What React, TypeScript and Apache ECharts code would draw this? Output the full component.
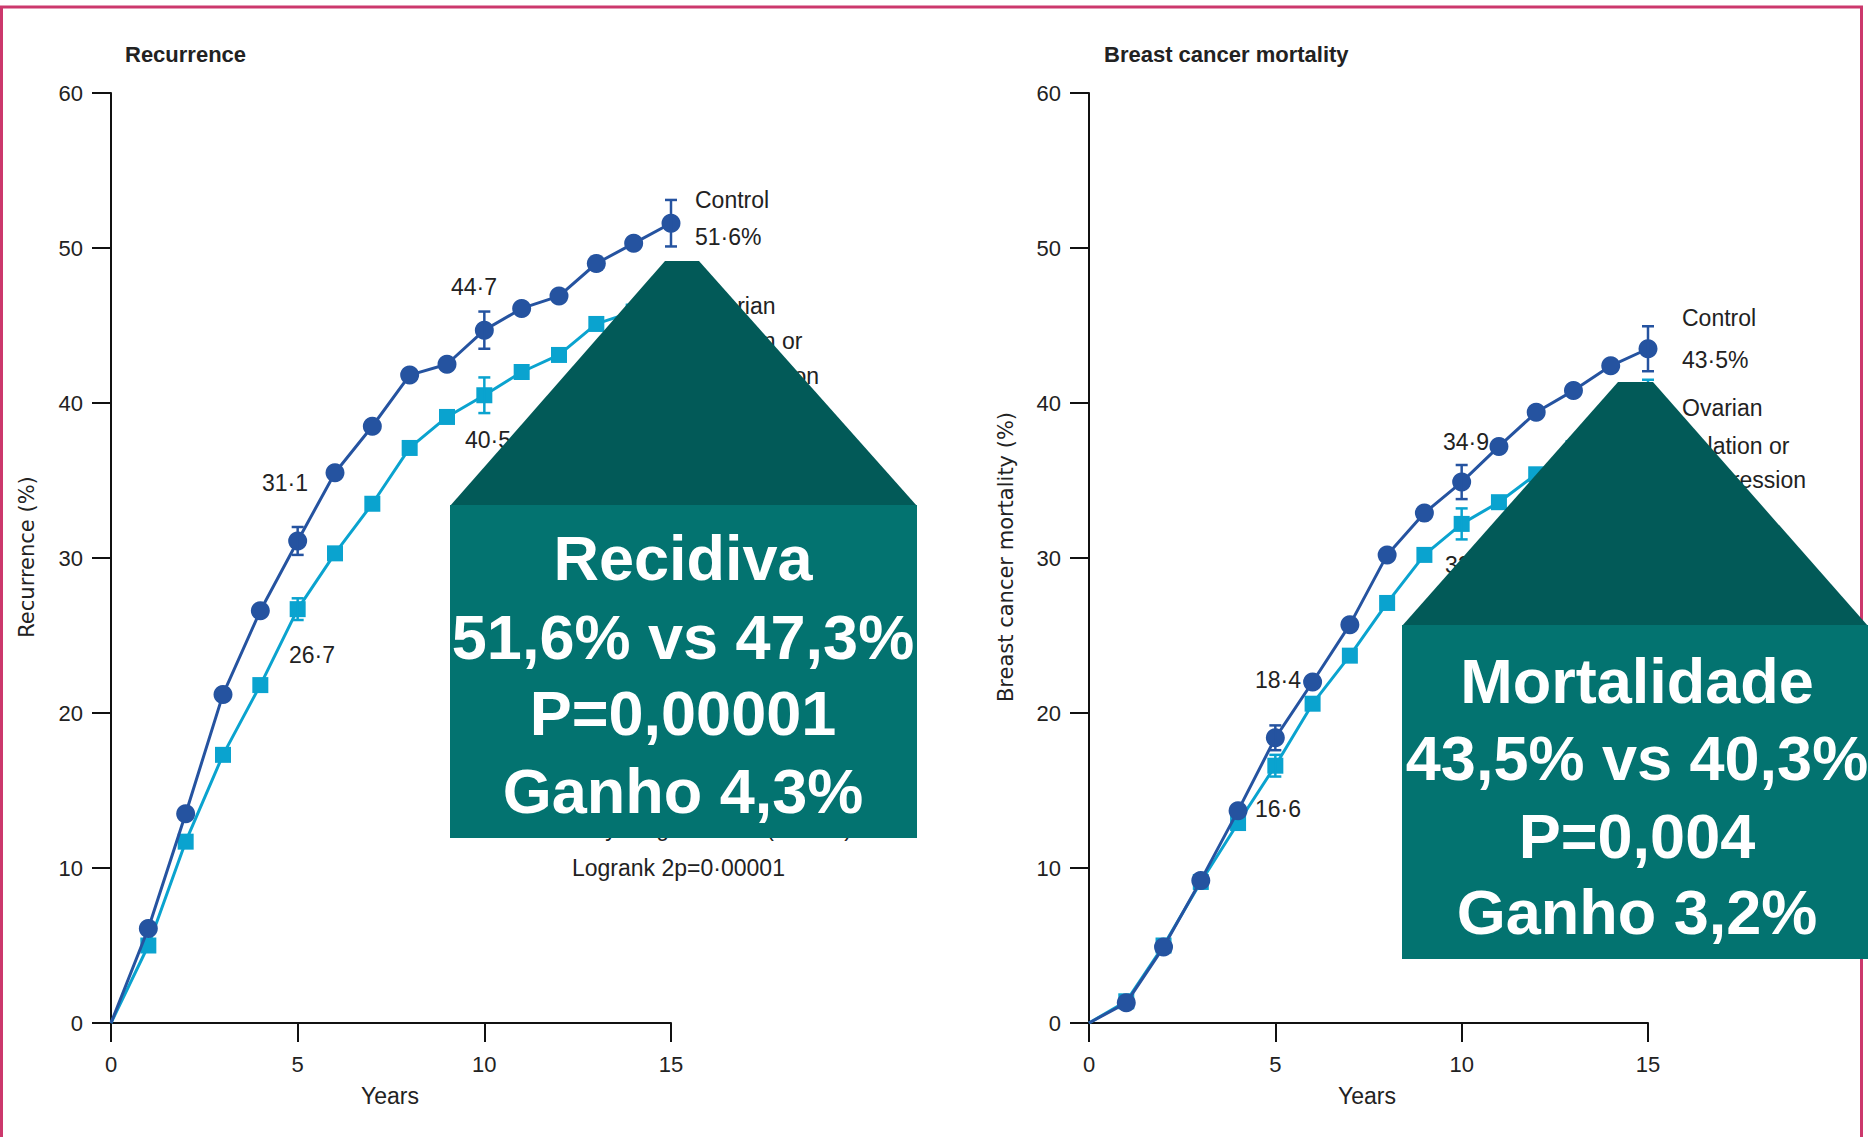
import React, { useEffect, useRef } from "react";
import * as echarts from "echarts";

// ---------- data ----------
const YEARS = [0, 1, 2, 3, 4, 5, 6, 7, 8, 9, 10, 11, 12, 13, 14, 15];
const RECURRENCE_CONTROL = [0, 6.1, 13.5, 21.2, 26.6, 31.1, 35.5, 38.5, 41.8, 42.5, 44.7, 46.1, 46.9, 49.0, 50.3, 51.6];
const RECURRENCE_OVARIAN = [0, 5.0, 11.7, 17.3, 21.8, 26.7, 30.3, 33.5, 37.1, 39.1, 40.5, 42.0, 43.1, 45.1, 45.9, 47.3];
const MORTALITY_CONTROL = [0, 1.3, 4.9, 9.2, 13.7, 18.4, 22.0, 25.7, 30.2, 32.9, 34.9, 37.2, 39.4, 40.8, 42.4, 43.5];
const MORTALITY_OVARIAN = [0, 1.4, 5.0, 9.1, 12.9, 16.6, 20.6, 23.7, 27.1, 30.2, 32.2, 33.6, 35.4, 37.1, 38.7, 40.3];

const ERROR_YEARS = [5, 10, 15];
const RECURRENCE_CONTROL_SE = [0.9, 1.2, 1.5];
const RECURRENCE_OVARIAN_SE = [0.7, 1.15, 1.4];
const MORTALITY_CONTROL_SE = [0.8, 1.1, 1.45];
const MORTALITY_OVARIAN_SE = [0.7, 1.0, 1.2];

const X_MIN = 0;
const X_MAX = 15;
const X_STEP = 5;
const Y_MIN = 0;
const Y_MAX = 60;
const Y_STEP = 10;

const TITLES = ["Recurrence", "Breast cancer mortality"];
const Y_NAMES = ["Recurrence (%)", "Breast cancer mortality (%)"];
const X_NAME = "Years";

const LEFT_POINT_LABELS = ["44·7", "31·1", "40·5", "26·7"];
const LEFT_LEGEND_LINES = ["Control", "51·6%", "Ovarian", "ablation or", "suppression"];
const LEFT_STATS = ["15-year gain 4·3% (SE 1·9)", "Logrank 2p=0·00001"];
const RIGHT_POINT_LABELS = ["34·9", "18·4", "16·6", "32·2"];
const RIGHT_LEGEND_LINES = ["Control", "43·5%", "Ovarian", "ablation or", "suppression"];

const BOX_LEFT_LINES = ["Recidiva", "51,6% vs 47,3%", "P=0,00001", "Ganho 4,3%"];
const BOX_RIGHT_LINES = ["Mortalidade", "43,5% vs 40,3%", "P=0,004", "Ganho 3,2%"];

// ---------- styles ----------
const CONTROL_COLOR = "#2553a0";
const OVARIAN_COLOR = "#0aa3cf";
const AXIS_COLOR = "#111111";
const TEXT_COLOR = "#222222";
const FONT = '"Liberation Sans", Arial, sans-serif';
const TRI_COLOR = "#025a58";
const BOX_COLOR = "#037370";
const BORDER_COLOR = "#cc386c";

function pairs(values: number[]) {
  return YEARS.map((x, i) =>
    i === 0 ? { value: [x, values[i]], symbol: "none" } : { value: [x, values[i]] }
  );
}

function errData(values: number[], se: number[]) {
  return ERROR_YEARS.map((yr, i) => [yr, values[YEARS.indexOf(yr)], se[i]]);
}

function errorSeries(idx: number, values: number[], se: number[], color: string, z: number) {
  return {
    type: "custom",
    xAxisIndex: idx,
    yAxisIndex: idx,
    z,
    data: errData(values, se),
    encode: { x: 0, y: 1 },
    renderItem: (_params: any, api: any) => {
      const x = api.value(0);
      const y = api.value(1);
      const e = api.value(2);
      const top = api.coord([x, y + e]);
      const bot = api.coord([x, y - e]);
      const c = 6;
      const st = { stroke: color, lineWidth: 2.5 };
      return {
        type: "group",
        children: [
          { type: "line", shape: { x1: top[0], y1: top[1], x2: bot[0], y2: bot[1] }, style: st },
          { type: "line", shape: { x1: top[0] - c, y1: top[1], x2: top[0] + c, y2: top[1] }, style: st },
          { type: "line", shape: { x1: bot[0] - c, y1: bot[1], x2: bot[0] + c, y2: bot[1] }, style: st },
        ],
      };
    },
  };
}

function lineSeries(idx: number, values: number[], color: string, symbol: string, size: number, z: number) {
  return {
    type: "line",
    xAxisIndex: idx,
    yAxisIndex: idx,
    data: pairs(values),
    symbol,
    symbolSize: size,
    showAllSymbol: true,
    z,
    lineStyle: { color, width: 3 },
    itemStyle: { color },
    emphasis: { disabled: true },
  };
}

function txt(text: string, x: number, y: number, font: string, fill: string, align = "left", z = 10, rotation = 0) {
  return {
    type: "text",
    x,
    y,
    z,
    rotation,
    silent: true,
    style: { text, font, fill, textAlign: align, textVerticalAlign: "middle" },
  };
}

function axisPair(idx: number) {
  const common = {
    type: "value",
    gridIndex: idx,
    axisLine: { show: true, onZero: false, lineStyle: { color: AXIS_COLOR, width: 2 } },
    axisTick: { show: true, length: 19, lineStyle: { color: AXIS_COLOR, width: 2 } },
    splitLine: { show: false },
    axisLabel: { fontSize: 22, color: TEXT_COLOR, fontFamily: FONT },
  };
  return {
    x: { ...common, min: X_MIN, max: X_MAX, interval: X_STEP, axisLabel: { ...common.axisLabel, margin: 30 } },
    y: { ...common, min: Y_MIN, max: Y_MAX, interval: Y_STEP, axisLabel: { ...common.axisLabel, margin: 28 } },
  };
}

export default function App() {
  const ref = useRef<HTMLDivElement>(null);

  useEffect(() => {
    document.body.style.margin = "0";
    if (!ref.current) return;
    const chart = echarts.init(ref.current, undefined, { renderer: "svg" });

    const a0 = axisPair(0);
    const a1 = axisPair(1);

    const labelFont = `23px ${FONT}`;
    const titleFont = `bold 22px ${FONT}`;
    const yNameFont = `21px "DejaVu Sans", ${FONT}`;
    const boxFont = `bold 63px ${FONT}`;

    const leftPointPos = [[451, 287], [262, 483], [465, 440], [289, 655]];
    const rightPointPos = [[1443, 442], [1255, 680], [1255, 809], [1445, 565]];
    const leftLegendY = [200, 237, 306, 341, 376];
    const rightLegendY = [318, 360, 408, 446, 480];
    const leftStatsY = [828, 868];
    const leftBoxY = [558, 637, 713, 791];
    const rightBoxY = [681, 758, 836, 912];

    const graphics: any[] = [
      // border
      { type: "line", z: 50, shape: { x1: 0, y1: 7, x2: 1863, y2: 7 }, style: { stroke: BORDER_COLOR, lineWidth: 3 } },
      { type: "line", z: 50, shape: { x1: 1.5, y1: 7, x2: 1.5, y2: 1137 }, style: { stroke: BORDER_COLOR, lineWidth: 3 } },
      { type: "line", z: 50, shape: { x1: 1861.5, y1: 7, x2: 1861.5, y2: 1137 }, style: { stroke: BORDER_COLOR, lineWidth: 3 } },
      // titles
      txt(TITLES[0], 125, 54, titleFont, TEXT_COLOR),
      txt(TITLES[1], 1104, 54, titleFont, TEXT_COLOR),
      // y names
      txt(Y_NAMES[0], 27, 557, yNameFont, TEXT_COLOR, "center", 10, Math.PI / 2),
      txt(Y_NAMES[1], 1006, 557, yNameFont, TEXT_COLOR, "center", 10, Math.PI / 2),
      // x names
      txt(X_NAME, 390, 1096, labelFont, TEXT_COLOR, "center"),
      txt(X_NAME, 1367, 1096, labelFont, TEXT_COLOR, "center"),
    ];
    LEFT_POINT_LABELS.forEach((t, i) => graphics.push(txt(t, leftPointPos[i][0], leftPointPos[i][1], labelFont, TEXT_COLOR)));
    RIGHT_POINT_LABELS.forEach((t, i) => graphics.push(txt(t, rightPointPos[i][0], rightPointPos[i][1], labelFont, TEXT_COLOR)));
    LEFT_LEGEND_LINES.forEach((t, i) => graphics.push(txt(t, 695, leftLegendY[i], labelFont, TEXT_COLOR)));
    RIGHT_LEGEND_LINES.forEach((t, i) => graphics.push(txt(t, 1682, rightLegendY[i], labelFont, TEXT_COLOR)));
    LEFT_STATS.forEach((t, i) => graphics.push(txt(t, 572, leftStatsY[i], labelFont, TEXT_COLOR)));

    // callout boxes
    graphics.push(
      { type: "polygon", z: 100, shape: { points: [[665, 261], [699, 261], [917, 506], [450, 506]] }, style: { fill: TRI_COLOR } },
      { type: "rect", z: 100, shape: { x: 450, y: 505, width: 467, height: 333 }, style: { fill: BOX_COLOR } },
      { type: "polygon", z: 100, shape: { points: [[1618, 382], [1653, 382], [1868, 626], [1402, 626]] }, style: { fill: TRI_COLOR } },
      { type: "rect", z: 100, shape: { x: 1402, y: 625, width: 466, height: 334 }, style: { fill: BOX_COLOR } }
    );
    BOX_LEFT_LINES.forEach((t, i) => graphics.push(txt(t, 683, leftBoxY[i], boxFont, "#ffffff", "center", 101)));
    BOX_RIGHT_LINES.forEach((t, i) => graphics.push(txt(t, 1637, rightBoxY[i], boxFont, "#ffffff", "center", 101)));

    const option: any = {
      animation: false,
      backgroundColor: "#ffffff",
      grid: [
        { left: 111, top: 93, width: 560, height: 930, containLabel: false },
        { left: 1089, top: 93, width: 559, height: 930, containLabel: false },
      ],
      xAxis: [a0.x, a1.x],
      yAxis: [a0.y, a1.y],
      series: [
        lineSeries(0, RECURRENCE_OVARIAN, OVARIAN_COLOR, "rect", 16, 3),
        lineSeries(0, RECURRENCE_CONTROL, CONTROL_COLOR, "circle", 19, 5),
        errorSeries(0, RECURRENCE_OVARIAN, RECURRENCE_OVARIAN_SE, OVARIAN_COLOR, 4),
        errorSeries(0, RECURRENCE_CONTROL, RECURRENCE_CONTROL_SE, CONTROL_COLOR, 6),
        lineSeries(1, MORTALITY_OVARIAN, OVARIAN_COLOR, "rect", 16, 3),
        lineSeries(1, MORTALITY_CONTROL, CONTROL_COLOR, "circle", 19, 5),
        errorSeries(1, MORTALITY_OVARIAN, MORTALITY_OVARIAN_SE, OVARIAN_COLOR, 4),
        errorSeries(1, MORTALITY_CONTROL, MORTALITY_CONTROL_SE, CONTROL_COLOR, 6),
      ],
      graphic: { elements: graphics },
    };
    chart.setOption(option);
    return () => chart.dispose();
  }, []);

  return <div ref={ref} style={{ width: 1868, height: 1137 }} />;
}
